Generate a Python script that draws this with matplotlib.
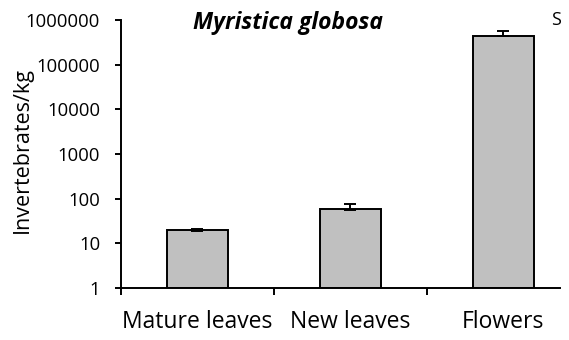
import numpy as np
import matplotlib
matplotlib.use("Agg")
import matplotlib.pyplot as plt

plt.rcParams['font.family'] = ['Open Sans', 'DejaVu Sans']

# invertebrate density by plant part
parts = ["Mature leaves", "New leaves", "Flowers"]
means = [18.5, 57, 430000]
errs = [2.0, 18, 150000]
yticks = [1, 10, 100, 1000, 10000, 100000, 1000000]

fig = plt.figure(figsize=(5.69, 3.40), dpi=100)
ax = fig.add_axes([121/569, 1-288/340, (560-121)/569, (288-20)/340])

x = np.arange(len(parts))
ax.bar(x, means, width=0.4, bottom=1, color="#c0c0c0", edgecolor="black", linewidth=1.4, zorder=2)
ax.errorbar(x, means, yerr=[np.zeros(len(errs)), errs], fmt="none", ecolor="black",
            elinewidth=1.4, capsize=4, capthick=1.4, zorder=3)

ax.set_yscale("log")
ax.set_ylim(1, 1000000)
ax.set_xlim(-0.5, 2.37)
ax.set_yticks(yticks)
ax.set_yticklabels([str(v) for v in yticks], fontsize=13.3)
ax.minorticks_off()
ax.set_xticks([-0.5, 0.5, 1.5], minor=False)
ax.set_xticklabels([])
ax.tick_params(axis="x", length=5, width=1.4, direction="out")
ax.tick_params(axis="y", length=4, width=1.4, direction="out", pad=11)
for i, p in enumerate(parts):
    ax.text(i, -40/268, p, transform=ax.get_xaxis_transform(), ha="center", va="baseline", fontsize=16.5)

ax.spines["top"].set_visible(False)
ax.spines["right"].set_visible(False)
ax.spines["left"].set_linewidth(1.4)
ax.spines["bottom"].set_linewidth(1.4)

ax.set_ylabel("Invertebrates/kg", fontsize=15.5, va="center")
ax.yaxis.set_label_coords(-(121-22)/439, 0.515)
ax.text(0.38, 0.99, "Myristica globosa", transform=ax.transAxes, ha="center", va="center",
        fontsize=16.5, fontweight="bold", fontstyle="italic")
ax.text(0.991, 1.0, "S", transform=ax.transAxes, ha="center", va="center", fontsize=13)

fig.savefig("out.png", dpi=100)
